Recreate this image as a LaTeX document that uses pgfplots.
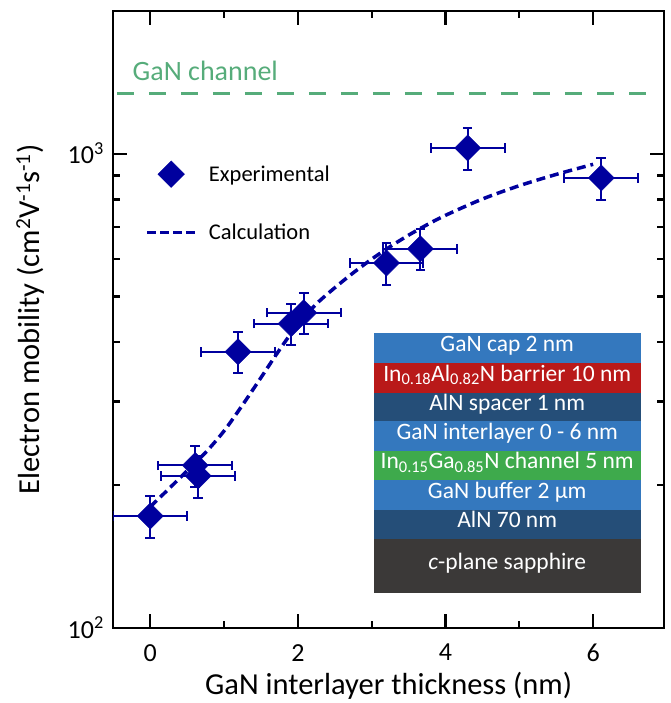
\documentclass[border=0pt]{standalone}
\usepackage{pgfplots}
\pgfplotsset{compat=1.18}
\usepackage{fontspec}
\setmainfont{Carlito}
\definecolor{mblue}{RGB}{0,0,158}
\definecolor{gline}{RGB}{86,172,122}
\definecolor{lgan}{RGB}{52,120,190}
\definecolor{lred}{RGB}{185,25,25}
\definecolor{laln}{RGB}{37,78,120}
\definecolor{lgreen}{RGB}{62,170,76}
\definecolor{lsap}{RGB}{59,57,56}
\pgfplotstableread{
x y ex ey
0 172 0.5 17.2
0.61 220 0.5 22.0
0.65 209 0.5 20.9
1.19 382 0.5 38.2
1.91 438 0.5 43.8
2.08 462 0.5 46.2
3.20 588 0.5 58.8
3.66 630 0.5 63.0
4.30 1028 0.5 102.8
6.11 889 0.5 88.9
}\expdata
\pgfplotstableread{
x y
0 179.9
0.25 196.2
0.5 214.3
0.75 234.2
1.0 260.0
1.25 294.9
1.5 336.9
1.75 385.4
2.0 436.5
2.25 481.8
2.5 521.3
2.75 560.5
3.0 599.1
3.25 636.6
3.5 673.1
3.75 708.0
4.0 741.3
4.5 802.2
5.0 855.9
5.5 904.1
6.0 949.5
}\calcdata
\begin{document}
\begin{tikzpicture}
\useasboundingbox (0,0) rectangle (670pt,703pt);
\begin{axis}[
  at={(113.3pt,75.3pt)}, anchor=south west,
  scale only axis, width=550.7pt, height=616.7pt,
  xmin=-0.5, xmax=6.96, ymode=log, ymin=100, ymax=2000,
  xtick={0,2,4,6}, xticklabels={0,2,4,6}, minor xtick={1,3,5},
  ytick={100,1000}, yticklabels={10\textsuperscript{2},10\textsuperscript{3}},
  minor ytick={200,300,400,500,600,700,800,900},
  major tick length=14pt, minor tick length=7pt,
  every tick/.style={line width=2.3pt, black},
  axis line style={line width=2.3pt},
  tick label style={font=\fontsize{26}{30}\selectfont},
  xticklabel style={yshift=-13pt},
  yticklabel style={xshift=-6pt},
  label style={font=\fontsize{30.5}{36}\selectfont},
  xlabel={GaN interlayer thickness (nm)},
  xlabel style={at={(axis description cs:0.5,-0.0945)}, anchor=center},
  ylabel={Electron mobility (cm\textsuperscript{2}V\textsuperscript{-1}s\textsuperscript{-1})},
  ylabel style={at={(axis description cs:-0.151,0.5)}, anchor=center, rotate=0},
  legend style={draw=none, fill=none, at={(0.0526,0.7608)}, anchor=north west,
    font=\fontsize{22.5}{27}\selectfont, row sep=34pt,
    /tikz/every odd column/.append style={column sep=10pt}},
  legend cell align=left,
]
\addlegendimage{legend image code/.code={\path (0pt,0pt) (48pt,0pt); \fill[mblue] (24pt,13.3pt) -- (37.3pt,0pt) -- (24pt,-13.3pt) -- (10.7pt,0pt) -- cycle;}}
\addlegendentry{Experimental}
\addlegendimage{legend image code/.code={\draw[mblue, line width=3.5pt, dash pattern=on 8.5pt off 4.5pt] (0pt,0pt) -- (48pt,0pt);}}
\addlegendentry{Calculation}

\addplot[gline, line width=3pt, dash pattern=on 17pt off 15pt, forget plot] coordinates {(-0.45,1340) (6.72,1340)};
\node[gline, anchor=base west, inner sep=0pt, font=\fontsize{28}{32}\selectfont] at (axis cs:-0.24,1426) {GaN channel};

\addplot[mblue, line width=3.5pt, dash pattern=on 9pt off 5pt, smooth, forget plot] table[x=x,y=y] {\calcdata};

\addplot[mblue, only marks, mark=square*, mark size=9.2pt, mark options={rotate=45, line width=0.5pt, fill=mblue}, forget plot,
  error bars/.cd, x dir=both, x explicit, y dir=both, y explicit,
  error bar style={line width=2pt, mblue},
  error mark options={rotate=90, mblue, line width=2pt, mark size=4.8pt}]
  table[x=x, y=y, x error=ex, y error=ey] {\expdata};

\fill[lgan] (rel axis cs:0.4734,0.4783) rectangle (rel axis cs:0.9577,0.4287);
\fill[lred] (rel axis cs:0.4734,0.4287) rectangle (rel axis cs:0.9577,0.3811);
\fill[laln] (rel axis cs:0.4734,0.3811) rectangle (rel axis cs:0.9577,0.3352);
\fill[lgan] (rel axis cs:0.4734,0.3352) rectangle (rel axis cs:0.9577,0.2865);
\fill[lgreen] (rel axis cs:0.4734,0.2865) rectangle (rel axis cs:0.9577,0.2395);
\fill[lgan] (rel axis cs:0.4734,0.2395) rectangle (rel axis cs:0.9577,0.1909);
\fill[laln] (rel axis cs:0.4734,0.1909) rectangle (rel axis cs:0.9577,0.1438);
\fill[lsap] (rel axis cs:0.4734,0.1438) rectangle (rel axis cs:0.9577,0.0568);
\begin{scope}[every node/.style={white, font=\fontsize{23.5}{27}\selectfont, inner sep=0pt, text height=0.64em, text depth=0pt}]
\node at (rel axis cs:0.7153,0.4535) {GaN cap 2 nm};
\node at (rel axis cs:0.7153,0.4049) {In\textsubscript{0.18}Al\textsubscript{0.82}N barrier 10 nm};
\node at (rel axis cs:0.7153,0.35815) {AlN spacer 1 nm};
\node at (rel axis cs:0.7153,0.31085) {GaN interlayer 0 - 6 nm};
\node at (rel axis cs:0.7153,0.263) {In\textsubscript{0.15}Ga\textsubscript{0.85}N channel 5 nm};
\node at (rel axis cs:0.7153,0.2152) {GaN buffer 2 µm};
\node at (rel axis cs:0.7153,0.16735) {AlN 70 nm};
\node at (rel axis cs:0.7153,0.1003) {\textit{c}-plane sapphire};
\end{scope}
\end{axis}
\end{tikzpicture}
\end{document}
